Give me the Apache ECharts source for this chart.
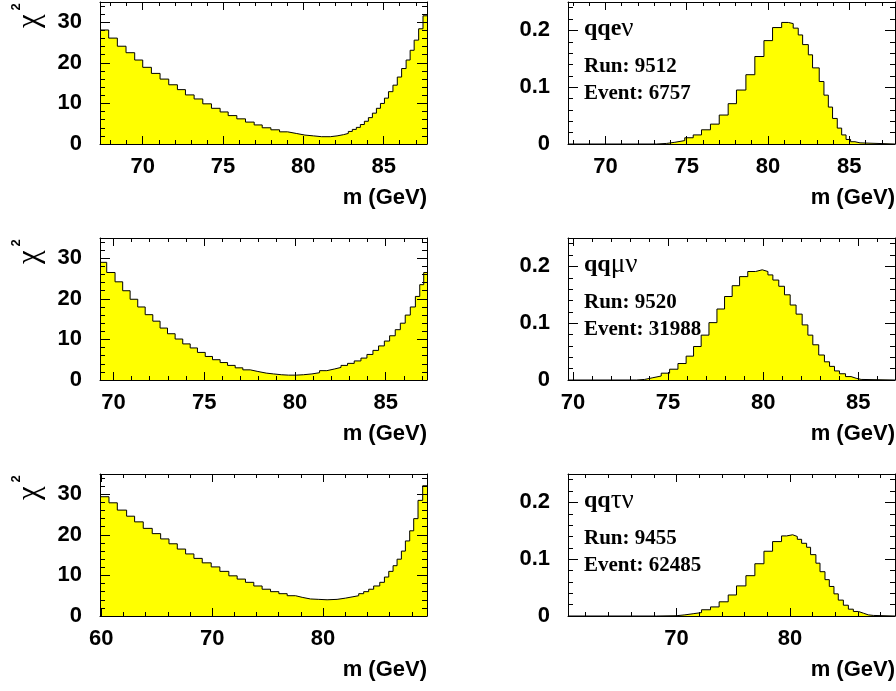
<!DOCTYPE html>
<html><head><meta charset="utf-8">
<script src="https://cdn.jsdelivr.net/npm/echarts@6/dist/echarts.min.js"></script>
<style>html,body{margin:0;padding:0;background:#fff}#c{width:896px;height:691px}</style>
</head><body><div id="c"></div>
<script>
// ---------- DATA (bin low edges + last upper edge, bin contents) ----------
// Panel 1: chi2 vs m, qqev
const p1Edges = [67.34,67.88,68.42,68.96,69.50,70.00,70.54,71.08,71.62,72.16,72.66,73.20,73.74,74.28,74.82,75.32,75.86,76.40,76.94,77.44,77.98,78.52,79.02,79.56,80.10,80.64,81.14,81.68,82.10,82.50,82.80,83.05,83.30,83.55,83.80,84.05,84.30,84.55,84.80,85.05,85.30,85.58,85.85,86.12,86.40,86.65,86.90,87.18,87.45,87.70];
const p1Chi2 = [28.1,26.1,24.1,22.5,20.7,18.9,17.4,16.0,14.6,13.4,12.1,11.1,9.9,8.8,7.9,7.0,6.2,5.4,4.7,4.0,3.5,3.0,2.6,2.2,2.0,1.8,1.8,2.0,2.3,2.6,3.1,3.6,4.1,4.8,5.6,6.5,7.6,8.8,10.0,11.3,12.9,14.5,16.5,18.6,20.7,23.1,25.6,28.4,31.6];
// Panel 2: probability vs m, qqev
const p2Edges = [67.70,73.14,73.76,74.27,74.88,75.40,75.91,76.46,77.00,77.55,78.06,78.64,79.19,79.75,80.28,80.84,81.25,81.55,81.86,82.13,82.48,82.74,83.15,83.44,83.71,83.97,84.26,84.53,84.80,85.08,85.35,85.66,87.81];
const p2Prob = [0,0.001,0.003,0.006,0.011,0.016,0.025,0.035,0.051,0.071,0.095,0.122,0.154,0.182,0.205,0.214,0.212,0.204,0.192,0.175,0.157,0.134,0.110,0.086,0.065,0.045,0.028,0.016,0.008,0.004,0.002,0];
// Panel 3: chi2 vs m, qqmuv
const p3Edges = [69.26,69.63,70.09,70.51,70.92,71.34,71.75,72.17,72.57,72.98,73.40,73.82,74.23,74.63,75.06,75.46,75.88,76.29,76.71,77.13,77.54,77.96,78.42,78.82,79.25,79.65,80.07,80.48,80.94,81.36,81.76,82.17,82.54,82.90,83.27,83.64,83.97,84.30,84.61,84.93,85.22,85.53,85.81,86.08,86.36,86.64,86.88,87.10,87.28];
const p3Chi2 = [29.0,26.5,24.2,22.0,19.9,18.0,16.1,14.5,12.8,11.4,10.1,8.9,7.9,6.8,5.8,5.0,4.3,3.6,3.0,2.5,2.1,1.7,1.5,1.3,1.2,1.2,1.3,1.5,1.8,2.3,2.7,3.1,3.6,4.1,4.7,5.4,6.3,7.3,8.4,9.6,10.9,12.4,14.0,16.0,18.0,20.6,23.5,26.5];
// Panel 4: probability vs m, qqmuv
const p4Edges = [69.74,73.33,73.77,74.20,74.64,75.08,75.52,75.95,76.34,76.74,77.15,77.57,77.97,78.37,78.76,79.19,79.60,79.95,80.25,80.51,80.82,81.12,81.42,81.73,82.05,82.35,82.61,82.92,83.22,83.49,83.75,84.01,84.33,84.62,84.89,85.15,86.93];
const p4Prob = [0,0.001,0.004,0.007,0.012,0.019,0.029,0.042,0.059,0.079,0.101,0.125,0.147,0.166,0.182,0.191,0.194,0.191,0.185,0.176,0.165,0.150,0.132,0.116,0.097,0.079,0.062,0.044,0.032,0.024,0.016,0.011,0.006,0.003,0.001,0];
// Panel 5: chi2 vs m, qqtauv
const p5Edges = [59.88,60.69,61.44,62.28,63.00,63.78,64.59,65.35,66.10,66.85,67.60,68.35,69.10,69.91,70.69,71.50,72.25,73.00,73.75,74.50,75.26,76.01,76.76,77.51,78.11,78.86,79.61,80.36,81.26,82.01,82.61,83.21,83.66,84.11,84.56,85.11,85.53,85.92,86.31,86.67,87.06,87.42,87.81,88.17,88.56,88.98,89.37];
const p5Chi2 = [29.4,27.9,26.1,24.6,23.2,21.6,20.3,19.0,17.8,16.5,15.3,14.2,13.1,12.1,11.0,9.9,9.1,8.3,7.4,6.6,6.0,5.5,5.0,4.6,4.2,4.1,4.0,4.1,4.4,4.7,5.0,5.5,6.0,6.6,7.4,8.3,9.6,11.0,12.4,14.0,16.0,18.5,21.0,24.0,28.5,32.1];
// Panel 6: probability vs m, qqtauv
const p6Edges = [60.44,68.24,70.00,70.74,71.47,72.21,73.00,73.76,74.56,75.29,76.12,76.91,77.71,78.47,79.26,79.71,80.24,80.65,81.03,81.47,81.82,82.29,82.65,83.09,83.47,83.88,84.26,84.71,85.15,85.59,86.03,86.47,86.91,87.35,89.26];
const p6Prob = [0,0.0005,0.002,0.004,0.006,0.011,0.016,0.025,0.037,0.053,0.071,0.092,0.114,0.131,0.141,0.143,0.140,0.135,0.128,0.121,0.108,0.093,0.078,0.064,0.052,0.039,0.028,0.019,0.012,0.008,0.005,0.002,0.001,0];

// tick labels
const xLabels5 = [70,75,80,85];
const xLabels10 = [60,70,80];
const xLabels10b = [70,80];
const chiYLabels = [0,10,20,30];
const probYLabels = [0,0.1,0.2];
// panel annotations
const channelLepton = ['e','μ','τ'];
const channelNu = 'ν';
const runs = ['Run: 9512','Run: 9520','Run: 9455'];
const events = ['Event: 6757','Event: 31988','Event: 62485'];
const xTitle = 'm (GeV)';

// ---------- LAYOUT ----------
const panels = [
  {edges:p1Edges, vals:p1Chi2, xMin:67.34, xMax:87.70, xLab:xLabels5, xMinStep:1, yMax:35, yLab:chiYLabels, yMinStep:2, col:0, row:0},
  {edges:p2Edges, vals:p2Prob, xMin:67.70, xMax:87.81, xLab:xLabels5, xMinStep:1, yMax:0.25, yLab:probYLabels, yMinStep:0.02, col:1, row:0},
  {edges:p3Edges, vals:p3Chi2, xMin:69.26, xMax:87.28, xLab:xLabels5, xMinStep:1, yMax:35, yLab:chiYLabels, yMinStep:2, col:0, row:1},
  {edges:p4Edges, vals:p4Prob, xMin:69.74, xMax:86.93, xLab:xLabels5, xMinStep:1, yMax:0.25, yLab:probYLabels, yMinStep:0.02, col:1, row:1},
  {edges:p5Edges, vals:p5Chi2, xMin:59.88, xMax:89.37, xLab:xLabels10, xMinStep:2, yMax:35, yLab:chiYLabels, yMinStep:2, col:0, row:2},
  {edges:p6Edges, vals:p6Prob, xMin:60.44, xMax:89.26, xLab:xLabels10b, xMinStep:2, yMax:0.25, yLab:probYLabels, yMinStep:0.02, col:1, row:2}
];
const COL_LEFT = [100, 568], ROW_TOP = [2, 238, 474], W = 327, H = 142;
const SANS = 'Liberation Sans', SERIF = 'Liberation Serif';

function minorTicks(a, b, step) {
  const out = [];
  for (let k = Math.ceil(a / step - 1e-9); k * step <= b + 1e-9; k++) out.push(+(k * step).toFixed(4));
  return out;
}

const grids = [], xAxes = [], yAxes = [], series = [], graphics = [];
panels.forEach((p, gi) => {
  const left = COL_LEFT[p.col], top = ROW_TOP[p.row];
  grids.push({left, top, width: W, height: H, show: false, containLabel: false, outerBoundsMode: 'none'});
  const blk = {color: '#000', width: 1};
  const lbl = {color: '#000', fontSize: 22, fontWeight: 'bold', fontFamily: SANS};
  const xMinor = minorTicks(p.xMin, p.xMax, p.xMinStep);
  const yMinor = minorTicks(0, p.yMax, p.yMinStep);
  const xc = {gridIndex: gi, type: 'value', min: p.xMin, max: p.xMax, splitLine: {show: false}, z: 10, silent: true};
  const yc = {gridIndex: gi, type: 'value', min: 0, max: p.yMax, splitLine: {show: false}, z: 10, silent: true};
  const xi = xAxes.length, yi = yAxes.length;
  ['bottom', 'top'].forEach((pos, k) => {
    xAxes.push(Object.assign({}, xc, {position: pos,
      axisLine: {show: true, onZero: false, lineStyle: blk},
      axisTick: {show: true, inside: true, length: 8, customValues: p.xLab, lineStyle: blk},
      axisLabel: k === 0 ? Object.assign({show: true, customValues: p.xLab, margin: 12}, lbl) : {show: false}}));
    xAxes.push(Object.assign({}, xc, {position: pos,
      axisLine: {show: false, onZero: false},
      axisTick: {show: true, inside: true, length: 4, customValues: xMinor, lineStyle: blk},
      axisLabel: {show: false}}));
  });
  ['left', 'right'].forEach((pos, k) => {
    yAxes.push(Object.assign({}, yc, {position: pos,
      axisLine: {show: true, onZero: false, lineStyle: blk},
      axisTick: {show: true, inside: true, length: 10, customValues: p.yLab, lineStyle: blk},
      axisLabel: k === 0 ? Object.assign({show: true, customValues: p.yLab, margin: 18}, lbl) : {show: false}}));
    yAxes.push(Object.assign({}, yc, {position: pos,
      axisLine: {show: false, onZero: false},
      axisTick: {show: true, inside: true, length: 5, customValues: yMinor, lineStyle: blk},
      axisLabel: {show: false}}));
  });
  const data = p.edges.map((e, i) => [e, i < p.vals.length ? p.vals[i] : p.vals[p.vals.length - 1]]);
  series.push({type: 'line', xAxisIndex: xi, yAxisIndex: yi, data, step: 'end', symbol: 'none', showSymbol: false,
    lineStyle: {color: '#000', width: 1}, areaStyle: {color: '#ffff00', opacity: 1}, animation: false, silent: true, z: 2});

  // x title
  graphics.push({type: 'text', x: left + W, y: top + H + 54, style: {text: xTitle, fill: '#000', fontSize: 22, fontWeight: 'bold', fontFamily: SANS, align: 'right', verticalAlign: 'middle'}});
  if (p.col === 0) {
    graphics.push({type: 'text', x: 30, y: top + 19, rotation: Math.PI / 2, style: {text: 'χ', fill: '#000', fontSize: 31, fontFamily: SERIF, align: 'center', verticalAlign: 'middle'}});
    graphics.push({type: 'text', x: 16, y: top + 5, rotation: Math.PI / 2, style: {text: '2', fill: '#000', fontSize: 13, fontWeight: 'bold', fontFamily: SANS, align: 'center', verticalAlign: 'middle'}});
  } else {
    const r = p.row;
    const isLatin = channelLepton[r] === 'e';
    const txt = isLatin ? '{a|qqe}{g|' + channelNu + '}' : '{a|qq}{g|' + channelLepton[r] + channelNu + '}';
    graphics.push({type: 'text', x: left + 16, y: top + 27, style: {text: txt, align: 'left', verticalAlign: 'middle',
      rich: {a: {fontSize: 24, fontWeight: 'bold', fontFamily: SERIF, fill: '#000'}, g: {fontSize: 27, fontFamily: SERIF, fill: '#000'}}}});
    graphics.push({type: 'text', x: left + 16, y: top + 65, style: {text: runs[r], fill: '#000', fontSize: 21, fontWeight: 'bold', fontFamily: SERIF, align: 'left', verticalAlign: 'middle'}});
    graphics.push({type: 'text', x: left + 16, y: top + 92, style: {text: events[r], fill: '#000', fontSize: 21, fontWeight: 'bold', fontFamily: SERIF, align: 'left', verticalAlign: 'middle'}});
  }
});

const chart = echarts.init(document.getElementById('c'), null, {renderer: 'canvas'});
chart.setOption({
  animation: false,
  backgroundColor: '#fff',
  grid: grids, xAxis: xAxes, yAxis: yAxes, series, graphic: graphics
});
</script>
</body></html>
